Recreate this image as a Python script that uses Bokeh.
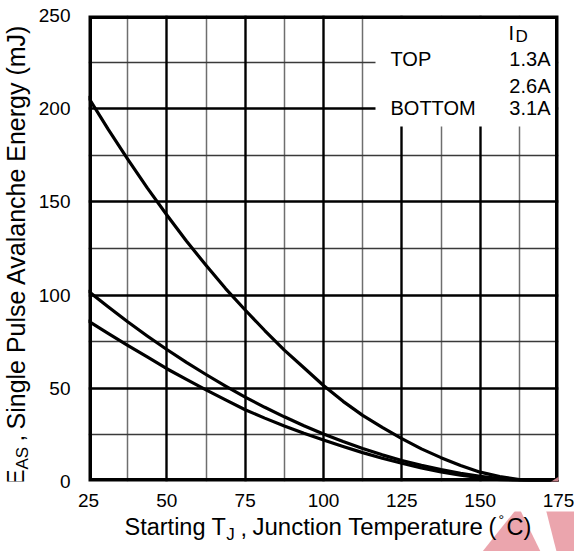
import math
from bokeh.plotting import figure
from bokeh.layouts import column, row
from bokeh.models import Label, FixedTicker, Grid, Range1d
from bokeh.embed import file_html
from bokeh.resources import INLINE

# Single pulse avalanche energy vs starting junction temperature
temps = [25, 31.25, 37.5, 43.75, 50, 56.25, 62.5, 68.75, 75, 81.25, 87.5, 93.75,
         100, 106.25, 112.5, 118.75, 125, 131.25, 137.5, 143.75, 150, 156.25,
         162.5, 168.75, 175]
eas_1p3A = [206, 189, 173, 157.5, 143, 129, 116, 103.5, 92, 81, 70.5, 61,
            51.5, 43, 35.5, 29, 23, 17.5, 12.8, 8.6, 5, 2.6, 1.0, 0.2, 0]
eas_2p6A = [102, 93.7, 85.7, 78.1, 70.8, 63.9, 57.4, 51.2, 45.3, 39.8, 34.7, 29.9,
            25.5, 21.4, 17.7, 14.3, 11.3, 8.7, 6.4, 4.4, 2.8, 1.6, 0.7, 0.2, 0]
eas_3p1A = [86, 79.5, 73, 66.8, 60.5, 54.8, 49.2, 43.8, 38.5, 34.0, 29.8, 25.9,
            22.3, 18.8, 15.5, 12.5, 9.8, 7.3, 5.2, 3.4, 2.0, 1.0, 0.4, 0.1, 0]

x_ticks = [25, 50, 75, 100, 125, 150, 175]
y_ticks = [0, 50, 100, 150, 200, 250]
x_minor = [37.5, 62.5, 87.5, 112.5, 137.5, 162.5]
x_major = [50, 75, 100, 125, 150]
y_minor = [25, 75, 125, 175, 225]
y_major = [50, 100, 150, 200]

legend_header = ("I", "D")
legend_names = ["TOP", "", "BOTTOM"]
legend_currents = ["1.3A", "2.6A", "3.1A"]

FONT = "Liberation Sans"
PINK = "#e8959f"
W, H = 574, 551
STRIP_W = 33          # strip holding the rotated y title
STRIP_H = 40          # strip holding the x title
MAIN_W, MAIN_H = W - STRIP_W, H - STRIP_H
LEFT, RIGHT, TOP = 88, 16, 15
BOTTOM = MAIN_H - 481
X0, X1, Y0, Y1 = 25, 175, 0, 250
DROP = 0.44           # label anchor sits this many em above the baseline

fw = W - LEFT - RIGHT
fh = MAIN_H - TOP - BOTTOM


def sx(px):
    """page pixel x -> data x of the main plot"""
    return X0 + (px - LEFT) * (X1 - X0) / fw


def sy(py):
    """page pixel y -> data y of the main plot"""
    return Y0 + (TOP + fh - py) * (Y1 - Y0) / fh


# Liberation Sans advance widths (per 1000 em)
ADV = {" ": 278, ",": 278, "(": 333, ")": 333, "°": 400, ".": 278,
       "A": 667, "B": 667, "C": 722, "D": 722, "E": 667, "I": 278, "J": 500,
       "M": 833, "O": 778, "P": 667, "S": 667, "T": 611,
       "a": 556, "c": 500, "e": 556, "g": 556, "h": 556, "i": 222, "l": 222,
       "m": 833, "n": 556, "o": 556, "p": 556, "r": 333, "s": 500, "t": 278,
       "u": 556, "v": 500, "y": 500}


def text_width(s, size):
    return sum(ADV.get(ch, 556) for ch in s) * size / 1000.0


def text_at(x, baseline, text, size, align="left"):
    """horizontal text whose baseline lies at the given canvas y"""
    return Label(x=x, y=baseline - DROP * size, x_units="canvas", y_units="canvas",
                 text=text, text_font=FONT, text_font_size=f"{size}px",
                 text_color="black", text_align=align, text_baseline="alphabetic")


def vtext_at(baseline, y, text, size):
    """text reading bottom-to-top whose baseline lies at the given canvas x"""
    return Label(x=baseline - DROP * size, y=y, x_units="canvas", y_units="canvas",
                 text=text, text_font=FONT, text_font_size=f"{size}px",
                 text_color="black", text_align="left", text_baseline="alphabetic",
                 angle=math.pi / 2)


def bare_figure(width, height, xr, yr):
    f = figure(width=width, height=height, output_backend="svg",
               toolbar_location=None, x_range=xr, y_range=yr,
               x_axis_type=None, y_axis_type=None, min_border=0)
    f.outline_line_color = None
    f.background_fill_color = "white"
    f.border_fill_color = "white"
    f.grid.visible = False
    return f


# ---------------- main plot ----------------
p = figure(width=MAIN_W, height=MAIN_H, output_backend="svg", toolbar_location=None,
           x_range=Range1d(X0, X1), y_range=Range1d(Y0, Y1),
           min_border_left=LEFT - STRIP_W, min_border_right=RIGHT,
           min_border_top=TOP, min_border_bottom=BOTTOM)
p.background_fill_color = "white"
p.border_fill_color = "white"
p.outline_line_color = None

for ax in (p.xaxis[0], p.yaxis[0]):
    ax.axis_line_color = None
    ax.major_tick_line_color = None
    ax.minor_tick_line_color = None
    ax.major_label_text_font = FONT
    ax.major_label_text_font_size = "19px"
    ax.major_label_text_color = "black"
p.xaxis.ticker = FixedTicker(ticks=x_ticks)
p.yaxis.ticker = FixedTicker(ticks=y_ticks)
p.xaxis.major_label_standoff = 6
p.yaxis.major_label_standoff = 12

# grid: thin grey minor lines and heavier black major lines
p.xgrid.ticker = FixedTicker(ticks=x_minor)
p.xgrid.grid_line_color = "#6e6e6e"
p.xgrid.grid_line_width = 1.5
p.ygrid.ticker = FixedTicker(ticks=y_minor)
p.ygrid.grid_line_color = "#3a3a3a"
p.ygrid.grid_line_width = 1.5
p.add_layout(Grid(dimension=0, ticker=FixedTicker(ticks=x_major),
                  grid_line_color="black", grid_line_width=2.4))
p.add_layout(Grid(dimension=1, ticker=FixedTicker(ticks=y_major),
                  grid_line_color="black", grid_line_width=2.4))

# white panel behind the legend text
p.quad(left=[sx(375)], right=[X1], bottom=[sy(126)], top=[Y1],
       fill_color="white", line_color=None)

# curves
for series in (eas_1p3A, eas_2p6A, eas_3p1A):
    p.line(temps, series, line_color="black", line_width=3.2,
           line_join="round", line_cap="round")

# heavy frame (half of the stroke falls outside the clip, so draw it doubled)
p.quad(left=[X0], right=[X1], bottom=[Y0], top=[Y1], fill_color=None,
       line_color="black", line_width=7)

# corner of the pink watermark reaching into the plot area
p.patch([sx(540), sx(574), sx(574), sx(556)], [sy(488), sy(466), sy(551), sy(551)],
        fill_color=PINK, fill_alpha=0.85, line_color=None)

# legend text (canvas units of the main plot)
LEG = 20
ox = STRIP_W
p.add_layout(text_at(508 - ox, 41.7, legend_header[0], LEG))
p.add_layout(text_at(515 - ox, 43, legend_header[1], 17))
row_base = [67.3, 94, 116.7]
for name, cur, b in zip(legend_names, legend_currents, row_base):
    if name:
        p.add_layout(text_at(390 - ox, b, name, LEG))
    p.add_layout(text_at(550 - ox, b, cur, LEG, align="right"))

# ---------------- y title strip ----------------
ys = bare_figure(STRIP_W, MAIN_H, Range1d(0, STRIP_W), Range1d(MAIN_H, 0))
YL = 25
YS = 17
ybase = 26
ys.add_layout(vtext_at(ybase, 485, "E", 24))
ys.add_layout(vtext_at(ybase + 3, 485 - text_width("E", 24), "AS", YS))
ys.add_layout(vtext_at(ybase, 441, ",", 24))
ys.add_layout(vtext_at(ybase, 429, "Single Pulse Avalanche Energy (mJ)", YL))

# ---------------- x title strip ----------------
xs = bare_figure(W, STRIP_H, Range1d(0, W), Range1d(H, MAIN_H))
xs.patch([482, 518, 540], [551, 506, 551], fill_color=PINK, fill_alpha=0.85,
         line_color=None)
xs.patch([540, 574, 574, 556], [488, 466, 551, 551], fill_color=PINK,
         fill_alpha=0.85, line_color=None)
XL = 23.5
XS = 17
xb = 537 - MAIN_H
xs.add_layout(text_at(124, xb, "Starting T", XL))
xs.add_layout(text_at(124 + text_width("Starting T", XL), xb + 4, "J", XS))
xs.add_layout(text_at(240, xb, ",", XL))
xs.add_layout(text_at(252, xb, "Junction Temperature", 24))
xs.add_layout(text_at(488, xb, "(", XL))
xs.add_layout(text_at(498, xb - 11, "°", 14))
xs.add_layout(text_at(506, xb, "C)", XL))

layout = column(row(ys, p, spacing=0), xs, spacing=0)
open("out.html", "w").write(file_html(layout, INLINE))
